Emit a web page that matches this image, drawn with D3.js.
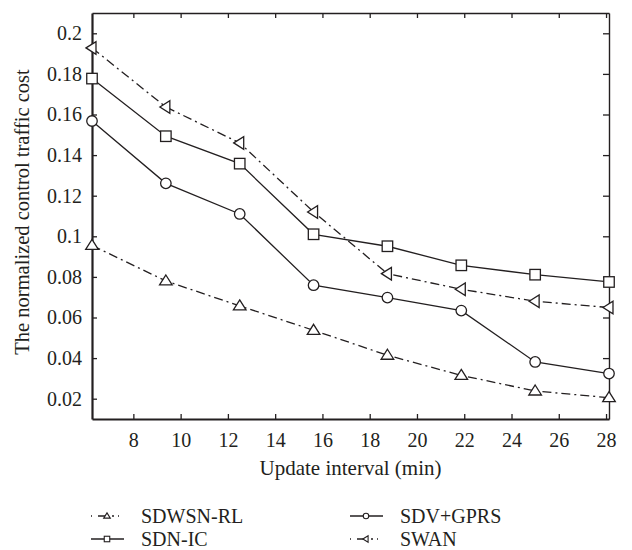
<!DOCTYPE html>
<html><head><meta charset="utf-8">
<script src="https://cdn.jsdelivr.net/npm/d3@7"></script>
<style>body{margin:0;background:#fff}svg{display:block}</style>
</head><body><div id="chart"></div>
<script>
const xValues = [6.25, 9.375, 12.5, 15.625, 18.75, 21.875, 25, 28.125];
const sdwsnRL = [0.0955, 0.078, 0.0657, 0.0537, 0.0414, 0.0315, 0.0238, 0.0205];
const sdvGprs = [0.1568, 0.1261, 0.111, 0.0759, 0.0698, 0.0634, 0.0381, 0.0324];
const sdnIC   = [0.1777, 0.1493, 0.1358, 0.101, 0.0951, 0.0857, 0.0811, 0.0775];
const swan    = [0.1928, 0.1637, 0.146, 0.112, 0.0816, 0.0739, 0.068, 0.0649];
const xTicks = [8, 10, 12, 14, 16, 18, 20, 22, 24, 26, 28];
const yTicks = [0.02, 0.04, 0.06, 0.08, 0.1, 0.12, 0.14, 0.16, 0.18, 0.2];
const seriesNames = ["SDWSN-RL", "SDV+GPRS", "SDN-IC", "SWAN"];

const W = 632, H = 550;
const m = {l: 92, r: 23, t: 13, b: 131};
const iw = W - m.l - m.r, ih = H - m.t - m.b;
const ink = "#231f20";
const FONT = '"Liberation Serif", "Times New Roman", "DejaVu Serif", serif';

const svg = d3.select("#chart").append("svg").attr("width", W).attr("height", H);
const g = svg.append("g").attr("transform", `translate(${m.l},${m.t})`);

const x = d3.scaleLinear().domain([6.25, 28.125]).range([0, iw]);
const y = d3.scaleLinear().domain([0.01, 0.21]).range([ih, 0]);

const fmt = d => String(+d.toFixed(2));

const xb = g.append("g").attr("transform", `translate(0,${ih})`)
  .call(d3.axisBottom(x).tickValues(xTicks).tickSizeInner(-5).tickSizeOuter(0).tickPadding(14).tickFormat(d3.format("d")));
const xt = g.append("g").call(d3.axisTop(x).tickValues(xTicks).tickSizeInner(-5).tickSizeOuter(0).tickFormat(""));
const yl = g.append("g").call(d3.axisLeft(y).tickValues(yTicks).tickSizeInner(-5).tickSizeOuter(0).tickPadding(10).tickFormat(fmt));
const yr = g.append("g").attr("transform", `translate(${iw},0)`)
  .call(d3.axisRight(y).tickValues(yTicks).tickSizeInner(-6).tickSizeOuter(0).tickFormat(""));
[xb, xt, yl, yr].forEach(a => {
  a.attr("font-family", FONT).attr("font-size", 20);
  a.selectAll("line").attr("stroke", ink).attr("stroke-width", 1.3);
  a.selectAll("text").attr("fill", ink).attr("font-family", FONT).attr("font-size", 20);
});
xt.select(".domain").attr("stroke", ink).attr("stroke-width", 1.4);
yr.select(".domain").attr("stroke", ink).attr("stroke-width", 1.4);
xb.select(".domain").attr("stroke", ink).attr("stroke-width", 2.2);
yl.select(".domain").attr("stroke", ink).attr("stroke-width", 2.2);

svg.append("text").attr("x", m.l + iw / 2).attr("y", 475).attr("text-anchor", "middle")
  .attr("font-family", FONT).attr("font-size", 21).attr("fill", ink).text("Update interval (min)");
svg.append("text").attr("transform", `translate(29,212) rotate(-90)`).attr("text-anchor", "middle")
  .attr("font-family", FONT).attr("font-size", 20.5).attr("fill", ink).text("The normalized control traffic cost");

const dashDot = "9,4,2,4";
const series = [
  {name: seriesNames[0], vals: sdwsnRL, dash: dashDot, marker: "up"},
  {name: seriesNames[1], vals: sdvGprs, dash: null, marker: "circle"},
  {name: seriesNames[2], vals: sdnIC, dash: null, marker: "square"},
  {name: seriesNames[3], vals: swan, dash: dashDot, marker: "left"}
];

function drawMarker(sel, type, cx, cy, s, sw) {
  if (type === "circle") {
    sel.append("circle").attr("cx", cx).attr("cy", cy).attr("r", s * 0.5)
      .attr("fill", "#fff").attr("stroke", ink).attr("stroke-width", sw);
  } else if (type === "square") {
    sel.append("rect").attr("x", cx - s / 2).attr("y", cy - s / 2).attr("width", s).attr("height", s)
      .attr("fill", "#fff").attr("stroke", ink).attr("stroke-width", sw);
  } else if (type === "up") {
    const h = s * 0.95, w = s * 1.2;
    sel.append("path").attr("d", `M${cx},${cy - h * 0.6}L${cx + w / 2},${cy + h * 0.4}L${cx - w / 2},${cy + h * 0.4}Z`)
      .attr("fill", "#fff").attr("stroke", ink).attr("stroke-width", sw);
  } else if (type === "left") {
    const h = s * 0.95, w = s * 1.2;
    sel.append("path").attr("d", `M${cx - h * 0.6},${cy}L${cx + h * 0.4},${cy - w / 2}L${cx + h * 0.4},${cy + w / 2}Z`)
      .attr("fill", "#fff").attr("stroke", ink).attr("stroke-width", sw);
  }
}

const line = d3.line().x((d, i) => x(xValues[i])).y(d => y(d));
series.forEach(s => {
  const p = g.append("path").datum(s.vals).attr("d", line).attr("fill", "none")
    .attr("stroke", ink).attr("stroke-width", 1.3);
  if (s.dash) p.attr("stroke-dasharray", s.dash);
});
series.forEach(s => {
  const mg = g.append("g");
  s.vals.forEach((v, i) => drawMarker(mg, s.marker, x(xValues[i]), y(v), 10.5, 1.3));
});

const legendPos = [
  {lx: 91, ly: 516}, {lx: 350, ly: 516}, {lx: 91, ly: 539}, {lx: 350, ly: 539}
];
series.forEach((s, i) => {
  const p = legendPos[i];
  const lg = svg.append("g");
  const ln = lg.append("line").attr("x1", p.lx).attr("x2", p.lx + 33).attr("y1", p.ly).attr("y2", p.ly)
    .attr("stroke", ink).attr("stroke-width", 1.3);
  if (s.dash) ln.attr("stroke-dasharray", "1,6,10,4,2,4");
  drawMarker(lg, s.marker, p.lx + 16, p.ly, 5.5, 1.1);
  lg.append("text").attr("x", p.lx + 50).attr("y", p.ly).attr("dy", "0.35em")
    .attr("font-family", FONT).attr("font-size", 20).attr("fill", ink).text(s.name);
});
</script></body></html>
